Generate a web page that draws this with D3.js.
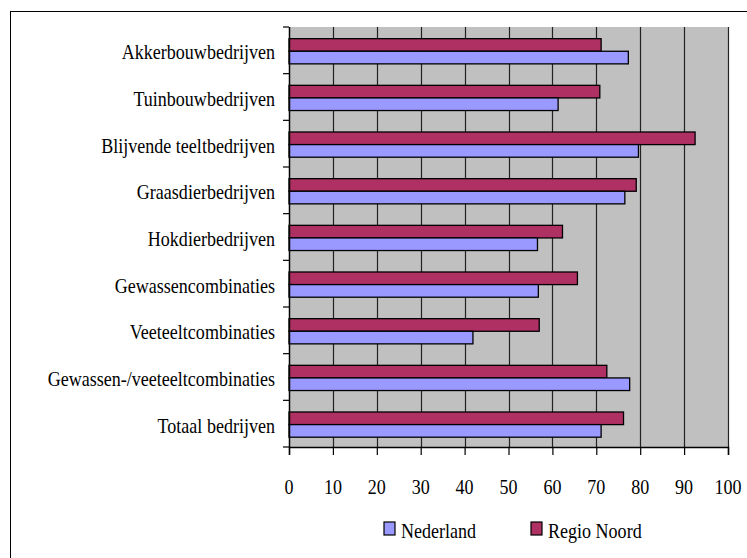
<!DOCTYPE html>
<html>
  <head>
    <meta charset="utf-8">
    <title>Bedrijfstypen: Nederland vs Regio Noord</title>
    <script src="https://cdn.jsdelivr.net/npm/d3@7"></script>
    <style>
      body { margin: 0; background: #fff; }
    </style>
  </head>
  <body>
    <svg id="chart" width="747" height="558"></svg>
    <script>
      // chart values
      var categories = ["Akkerbouwbedrijven", "Tuinbouwbedrijven", "Blijvende teeltbedrijven",
        "Graasdierbedrijven", "Hokdierbedrijven", "Gewassencombinaties", "Veeteeltcombinaties",
        "Gewassen-/veeteeltcombinaties", "Totaal bedrijven"];
      var seriesNames = ["Regio Noord", "Nederland"];
      var regioNoord = [71.1, 70.8, 92.5, 79.1, 62.3, 65.7, 57.0, 72.4, 76.2];
      var nederland = [77.3, 61.3, 79.6, 76.5, 56.6, 56.8, 41.9, 77.6, 71.1];
      var xTicks = [0, 10, 20, 30, 40, 50, 60, 70, 80, 90, 100];
      var legendOrder = ["Nederland", "Regio Noord"];

      var colors = { "Nederland": "#9999ff", "Regio Noord": "#af3063" };
      var values = { "Nederland": nederland, "Regio Noord": regioNoord };

      var svg = d3.select("#chart");
      // plot area edges (note: "top" is reserved on window, so use pTop)
      var pLeft = 289, pRight = 728, pTop = 27, pBottom = 447;
      var sx = 0.82; // text in the reference is horizontally squeezed
      var fontSize = 22;
      var serif = "Liberation Serif";

      // outer chart border (runs off the right and bottom of the picture)
      svg.append("rect")
        .attr("x", 10.5).attr("y", 11.5)
        .attr("width", 800).attr("height", 600)
        .attr("fill", "none").attr("stroke", "#000").attr("stroke-width", 1);

      var x = d3.scaleLinear().domain([0, 100]).range([pLeft, pRight]);
      var y = d3.scaleBand().domain(categories).range([pTop, pBottom]);
      var inner = d3.scaleBand().domain(seriesNames)
        .range([y.bandwidth() * 0.25, y.bandwidth() * 0.79]);

      // plot area
      svg.append("rect")
        .attr("x", pLeft).attr("y", pTop)
        .attr("width", pRight - pLeft).attr("height", pBottom - pTop)
        .attr("fill", "#c0c0c0");

      // vertical gridlines
      svg.append("g").selectAll("line")
        .data(xTicks.slice(1))
        .enter().append("line")
          .attr("x1", function (d) { return Math.round(x(d)) + 0.5; })
          .attr("x2", function (d) { return Math.round(x(d)) + 0.5; })
          .attr("y1", pTop).attr("y2", pBottom)
          .attr("stroke", "#222").attr("stroke-width", 1.2);

      // bars
      var groups = svg.append("g").selectAll("g")
        .data(categories)
        .enter().append("g")
          .attr("transform", function (d) { return "translate(0," + y(d) + ")"; });

      groups.selectAll("rect")
        .data(function (d, i) {
          return seriesNames.map(function (s) { return { s: s, v: values[s][i] }; });
        })
        .enter().append("rect")
          .attr("x", x(0))
          .attr("y", function (d) { return inner(d.s); })
          .attr("width", function (d) { return x(d.v) - x(0); })
          .attr("height", inner.bandwidth())
          .attr("fill", function (d) { return colors[d.s]; })
          .attr("stroke", "#000").attr("stroke-width", 1.3);

      // x axis
      var xAxis = svg.append("g")
        .attr("transform", "translate(0," + pBottom + ")")
        .call(d3.axisBottom(x).tickValues(xTicks).tickSize(8).tickPadding(0).tickFormat(""));
      xAxis.select(".domain").attr("stroke", "#000").attr("stroke-width", 1.5);
      xAxis.selectAll(".tick line").attr("stroke", "#000").attr("stroke-width", 1.2);

      svg.append("g").selectAll("text")
        .data(xTicks)
        .enter().append("text")
          .attr("transform", function (d) { return "translate(" + x(d) + ",494) scale(" + sx + ",1)"; })
          .attr("text-anchor", "middle")
          .attr("font-family", serif)
          .attr("font-size", fontSize)
          .text(function (d) { return d; });

      // y axis: line plus ticks at category boundaries
      svg.append("line")
        .attr("x1", pLeft + 0.5).attr("x2", pLeft + 0.5)
        .attr("y1", pTop).attr("y2", pBottom)
        .attr("stroke", "#000").attr("stroke-width", 1.5);
      svg.append("g").selectAll("line")
        .data(d3.range(categories.length + 1))
        .enter().append("line")
          .attr("x1", pLeft - 6).attr("x2", pLeft)
          .attr("y1", function (i) { return pTop + i * y.step(); })
          .attr("y2", function (i) { return pTop + i * y.step(); })
          .attr("stroke", "#000").attr("stroke-width", 1.2);

      svg.append("g").selectAll("text")
        .data(categories)
        .enter().append("text")
          .attr("transform", function (d) {
            return "translate(275," + (y(d) + y.bandwidth() / 2 + 9) + ") scale(" + sx + ",1)";
          })
          .attr("text-anchor", "end")
          .attr("font-family", serif)
          .attr("font-size", fontSize)
          .text(function (d) { return d; });

      // legend
      var legendX = { "Nederland": 384, "Regio Noord": 531 };
      var legend = svg.append("g").selectAll("g")
        .data(legendOrder)
        .enter().append("g")
          .attr("transform", function (d) { return "translate(" + legendX[d] + ",522)"; });
      legend.append("rect")
        .attr("width", 11).attr("height", 13)
        .attr("fill", function (d) { return colors[d]; })
        .attr("stroke", "#000").attr("stroke-width", 1.2);
      legend.append("text")
        .attr("transform", "translate(17,16) scale(" + sx + ",1)")
        .attr("font-family", serif)
        .attr("font-size", fontSize)
        .text(function (d) { return d; });
    </script>
  </body>
</html>
